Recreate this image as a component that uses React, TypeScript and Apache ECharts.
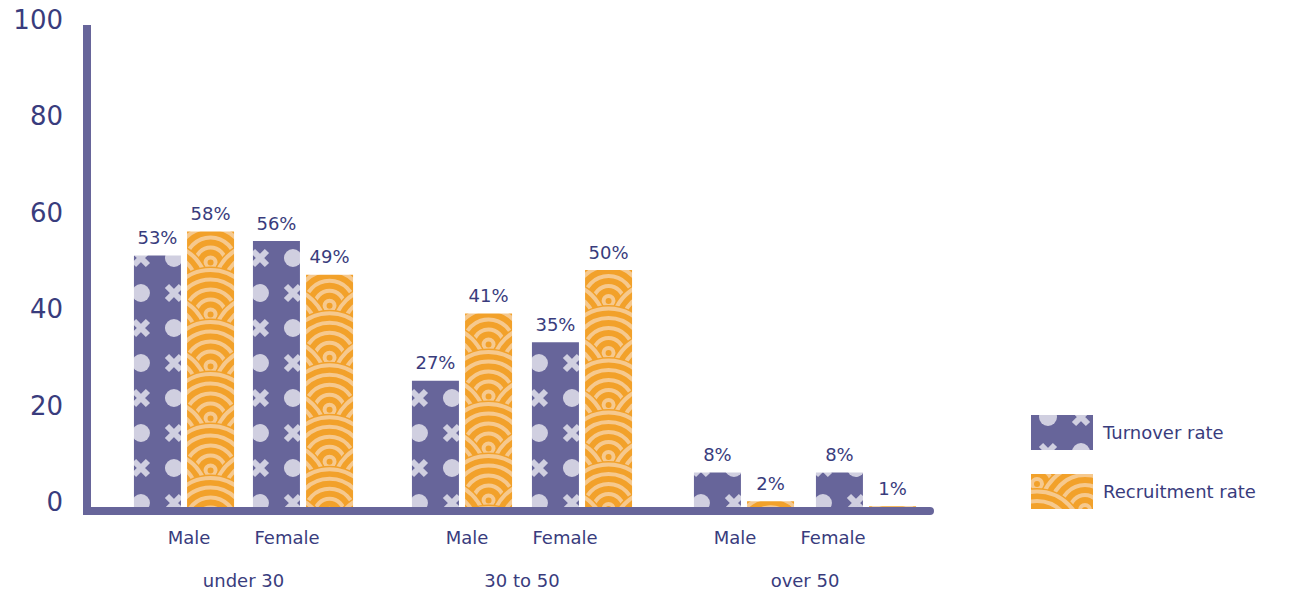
import React, { useEffect, useRef } from "react";
import * as echarts from "echarts";

const groups = ["under 30", "30 to 50", "over 50"];
const genders = ["Male", "Female"];
const seriesNames = ["Turnover rate", "Recruitment rate"];
const turnover = [
  [53, 56],
  [27, 35],
  [8, 8],
];
const recruitment = [
  [58, 49],
  [41, 50],
  [2, 1],
];
const yTicks = [0, 20, 40, 60, 80, 100];

const PURPLE = "#67659a";
const LIGHT_PURPLE = "#d0cfe0";
const ORANGE = "#f2a12a";
const LIGHT_ORANGE = "#f6c98e";
const TEXT = "#393c7d";
const FONT = "DejaVu Sans";

const DOT_W = 66;
const DOT_H = 70;
const WAVE_W = 96;
const WAVE_ROW = 26;

const mod = (a: number, m: number) => ((a % m) + m) % m;

// tile whose first cross sits at global (ox, oy) once the pattern repeats from the origin
function makeDots(ox = 0, oy = 0): HTMLCanvasElement {
  const c = document.createElement("canvas");
  c.width = DOT_W;
  c.height = DOT_H;
  const g = c.getContext("2d")!;
  g.fillStyle = PURPLE;
  g.fillRect(0, 0, DOT_W, DOT_H);
  const cross = (x: number, y: number) => {
    g.strokeStyle = LIGHT_PURPLE;
    g.lineWidth = 6;
    g.beginPath();
    g.moveTo(x - 7, y - 7);
    g.lineTo(x + 7, y + 7);
    g.moveTo(x + 7, y - 7);
    g.lineTo(x - 7, y + 7);
    g.stroke();
  };
  const dot = (x: number, y: number) => {
    g.fillStyle = LIGHT_PURPLE;
    g.beginPath();
    g.arc(x, y, 9, 0, Math.PI * 2);
    g.fill();
  };
  const bx = mod(ox, DOT_W);
  const by = mod(oy, DOT_H);
  const hw = DOT_W / 2;
  const hh = DOT_H / 2;
  for (let i = -2; i <= 1; i++) {
    for (let j = -2; j <= 1; j++) {
      const x = bx + i * DOT_W;
      const y = by + j * DOT_H;
      cross(x, y);
      cross(x + hw, y + hh);
      dot(x + hw, y);
      dot(x, y + hh);
    }
  }
  return c;
}

function makeWaves(ox = 0, oy = 0): HTMLCanvasElement {
  const W = WAVE_W;
  const H = WAVE_ROW * 2;
  const c = document.createElement("canvas");
  c.width = W;
  c.height = H;
  const g = c.getContext("2d")!;
  g.fillStyle = ORANGE;
  g.fillRect(0, 0, W, H);
  const bx = mod(ox, W);
  const by = mod(oy, H);
  for (let j = -6; j <= 6; j++) {
    const y = by + j * WAVE_ROW;
    const off = Math.abs(j) % 2 === 1 ? W / 2 : 0;
    for (let i = -2; i <= 2; i++) {
      const x = bx + i * W + off;
      g.fillStyle = ORANGE;
      g.beginPath();
      g.arc(x, y, 48, 0, Math.PI * 2);
      g.fill();
      g.strokeStyle = LIGHT_ORANGE;
      g.lineWidth = 4;
      [5, 15, 25, 35, 44.5].forEach((r) => {
        g.beginPath();
        g.arc(x, y, r, 0, Math.PI * 2);
        g.stroke();
      });
    }
  }
  return c;
}

const gridLefts = [124.5, 402, 683];
const gridWidths = [238, 240, 244];
const labelShift = [
  [5, -16],
  [5, -17],
  [-9, -33],
];

export default function App() {
  const ref = useRef<HTMLDivElement>(null);
  useEffect(() => {
    if (!ref.current) return;
    const chart = echarts.init(ref.current, null, { renderer: "svg" });
    const dotPattern = (x = 0, y = 0): any => ({
      image: makeDots(x, y),
      repeat: "repeat",
      imageWidth: DOT_W,
      imageHeight: DOT_H,
    });
    const wavePattern = (x = 0, y = 0): any => ({
      image: makeWaves(x, y),
      repeat: "repeat",
      imageWidth: WAVE_W,
      imageHeight: WAVE_ROW * 2,
    });

    const grids: any[] = [{ left: 87, right: 379, top: 29, bottom: 84 }];
    const xAxes: any[] = [
      {
        gridIndex: 0,
        type: "category",
        data: [""],
        z: 10,
        axisLine: { show: true, lineStyle: { color: PURPLE, width: 8 } },
        axisTick: { show: false },
        axisLabel: { show: false },
      },
    ];
    const yAxes: any[] = [
      {
        gridIndex: 0,
        type: "value",
        min: 0,
        max: 100,
        interval: 20,
        z: 10,
        splitLine: { show: false },
        axisTick: { show: false },
        axisLine: { show: true, lineStyle: { color: PURPLE, width: 8, cap: "square" } },
        axisLabel: {
          color: TEXT,
          fontSize: 26,
          fontFamily: FONT,
          margin: 24,
          verticalAlign: "bottom",
          lineHeight: 18,
          formatter: (v: number) => (yTicks.includes(v) ? String(v) : ""),
        },
      },
    ];
    const series: any[] = [];
    groups.forEach((grp, gi) => {
      const idx = gi + 1;
      grids.push({ left: gridLefts[gi], width: gridWidths[gi], top: 29, bottom: 84 });
      const rich: any = {};
      genders.forEach((gen, k) => {
        const d = labelShift[gi][k];
        rich["s" + k] = {
          color: TEXT,
          fontSize: 18,
          fontFamily: FONT,
          padding: d >= 0 ? [0, 0, 0, 2 * d] : [0, -2 * d, 0, 0],
        };
      });
      xAxes.push({
        gridIndex: idx,
        type: "category",
        data: genders,
        name: grp,
        nameLocation: "middle",
        nameGap: 60,
        nameTextStyle: { color: TEXT, fontSize: 18, fontFamily: FONT, verticalAlign: "top" },
        axisLine: { show: false },
        axisTick: { show: false },
        axisLabel: {
          margin: 17,
          formatter: (v: string, i: number) => `{s${i}|${v}}`,
          rich,
        },
      });
      yAxes.push({
        gridIndex: idx,
        type: "value",
        min: 0,
        max: 100,
        interval: 20,
        show: false,
        splitLine: { show: false },
      });
      const label = {
        show: true,
        position: "top",
        distance: 9,
        color: TEXT,
        fontSize: 18,
        fontFamily: FONT,
        formatter: (p: any) => `${p.value}%`,
      };
      series.push({
        name: seriesNames[0],
        type: "bar",
        xAxisIndex: idx,
        yAxisIndex: idx,
        data: turnover[gi],
        barWidth: 47,
        barGap: "13%",
        itemStyle: { color: dotPattern(1040, 422) },
        label,
      });
      series.push({
        name: seriesNames[1],
        type: "bar",
        xAxisIndex: idx,
        yAxisIndex: idx,
        data: recruitment[gi],
        barWidth: 47,
        barGap: "13%",
        itemStyle: { color: wavePattern(1062, 530) },
        label,
      });
    });

    chart.setOption({
      animation: false,
      backgroundColor: "#ffffff",
      grid: grids,
      xAxis: xAxes,
      yAxis: yAxes,
      legend: {
        data: seriesNames,
        orient: "vertical",
        left: 1031,
        top: 415,
        padding: 0,
        icon: "rect",
        itemWidth: 62,
        itemHeight: 35,
        itemGap: 24,
        textStyle: { color: TEXT, fontSize: 18, fontFamily: FONT, padding: [0, 0, 0, 5] },
      },
      series,
    });

    // anchor each bar's pattern to the bar itself (from the library's own layout)
    try {
      const model: any = (chart as any).getModel();
      const upd = series.map((s, si) => {
        const data = model.getSeriesByIndex(si).getData();
        const isTurnover = si % 2 === 0;
        return {
          data: (s.data as number[]).map((v, j) => {
            const l = data.getItemLayout(j);
            const left = Math.min(l.x, l.x + l.width);
            const top = Math.min(l.y, l.y + l.height);
            const bottom = Math.max(l.y, l.y + l.height);
            const color = isTurnover
              ? dotPattern(left + 7, bottom - 43)
              : wavePattern(left + Math.abs(l.width) / 2, top + 31);
            return { value: v, itemStyle: { color } };
          }),
        };
      });
      chart.setOption({ series: upd });
    } catch (e) {
      // keep default patterns
    }
    return () => chart.dispose();
  }, []);
  return <div ref={ref} style={{ width: 1309, height: 595, position: "absolute", left: 0, top: 0 }} />;
}
